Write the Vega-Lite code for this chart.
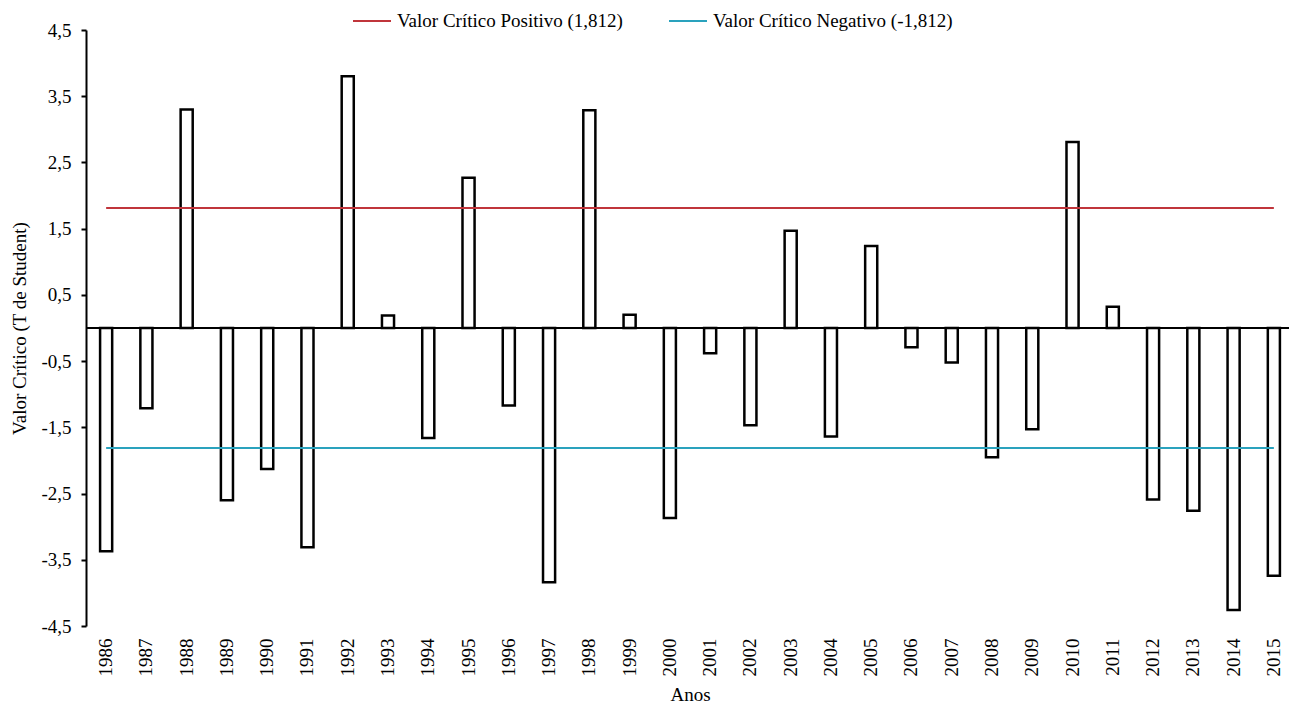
{
  "$schema": "https://vega.github.io/schema/vega-lite/v6.json",
  "autosize": {"type": "none"},
  "width": 1203,
  "height": 596,
  "padding": {"left": 86, "top": 30, "right": 0, "bottom": 80},
  "background": "white",
  "config": {
    "view": {"stroke": null},
    "font": "Liberation Serif"
  },
  "datasets": {
    "anual": [
      {"ano": "1986", "t": -3.37},
      {"ano": "1987", "t": -1.21},
      {"ano": "1988", "t": 3.30},
      {"ano": "1989", "t": -2.60},
      {"ano": "1990", "t": -2.13},
      {"ano": "1991", "t": -3.31},
      {"ano": "1992", "t": 3.80},
      {"ano": "1993", "t": 0.19},
      {"ano": "1994", "t": -1.66},
      {"ano": "1995", "t": 2.27},
      {"ano": "1996", "t": -1.17},
      {"ano": "1997", "t": -3.84},
      {"ano": "1998", "t": 3.29},
      {"ano": "1999", "t": 0.20},
      {"ano": "2000", "t": -2.87},
      {"ano": "2001", "t": -0.38},
      {"ano": "2002", "t": -1.47},
      {"ano": "2003", "t": 1.47},
      {"ano": "2004", "t": -1.64},
      {"ano": "2005", "t": 1.24},
      {"ano": "2006", "t": -0.29},
      {"ano": "2007", "t": -0.52},
      {"ano": "2008", "t": -1.95},
      {"ano": "2009", "t": -1.53},
      {"ano": "2010", "t": 2.81},
      {"ano": "2011", "t": 0.32},
      {"ano": "2012", "t": -2.59},
      {"ano": "2013", "t": -2.76},
      {"ano": "2014", "t": -4.26},
      {"ano": "2015", "t": -3.74}
    ],
    "criticos": [
      {"ano": "1986", "t": 1.812, "serie": "Valor Crítico Positivo (1,812)"},
      {"ano": "2015", "t": 1.812, "serie": "Valor Crítico Positivo (1,812)"},
      {"ano": "1986", "t": -1.812, "serie": "Valor Crítico Negativo (-1,812)"},
      {"ano": "2015", "t": -1.812, "serie": "Valor Crítico Negativo (-1,812)"}
    ]
  },
  "encoding": {
    "x": {
      "field": "ano",
      "type": "ordinal",
      "sort": "ascending",
      "scale": {"range": [0, 1208], "paddingInner": 0.7, "paddingOuter": 0.35},
      "axis": {
        "title": "Anos",
        "labelAngle": -90,
        "labelFont": "Liberation Serif",
        "labelFontSize": 19,
        "labelColor": "#000000",
        "labelPadding": 12,
        "ticks": false,
        "domain": false,
        "titleFont": "Liberation Serif",
        "titleFontSize": 19,
        "titleFontWeight": "normal",
        "titleColor": "#000000",
        "titlePadding": 9
      }
    },
    "y": {
      "field": "t",
      "type": "quantitative",
      "scale": {"domain": [-4.5, 4.5], "nice": false, "zero": false},
      "axis": {
        "title": "Valor Crítico (T de Student)",
        "values": [-4.5, -3.5, -2.5, -1.5, -0.5, 0.5, 1.5, 2.5, 3.5, 4.5],
        "labelExpr": "replace(toString(datum.value), '.', ',')",
        "grid": false,
        "domainColor": "#000000",
        "domainWidth": 2,
        "tickColor": "#000000",
        "tickWidth": 2,
        "tickSize": 5,
        "labelFont": "Liberation Serif",
        "labelFontSize": 19,
        "labelColor": "#000000",
        "labelPadding": 10,
        "titleFont": "Liberation Serif",
        "titleFontSize": 19,
        "titleFontWeight": "normal",
        "titleColor": "#000000",
        "titlePadding": 11
      }
    }
  },
  "layer": [
    {
      "data": {"name": "anual"},
      "mark": {"type": "bar", "fill": "white", "stroke": "#000000", "strokeWidth": 2.5}
    },
    {
      "data": {"values": [{"zero": 0}]},
      "mark": {"type": "rule", "color": "#000000", "strokeWidth": 1.8},
      "encoding": {"x": null, "y": {"field": "zero", "type": "quantitative"}}
    },
    {
      "data": {"name": "criticos"},
      "mark": {"type": "line", "strokeWidth": 2},
      "encoding": {
        "color": {
          "field": "serie",
          "type": "nominal",
          "sort": ["Valor Crítico Positivo (1,812)", "Valor Crítico Negativo (-1,812)"],
          "scale": {
            "domain": ["Valor Crítico Positivo (1,812)", "Valor Crítico Negativo (-1,812)"],
            "range": ["#c0353b", "#2aa2bd"]
          },
          "legend": {
            "title": null,
            "orient": "none",
            "direction": "horizontal",
            "legendX": 266,
            "legendY": -29,
            "padding": 0,
            "symbolType": "stroke",
            "symbolSize": 1444,
            "symbolStrokeWidth": 2,
            "labelFont": "Liberation Serif",
            "labelFontSize": 19,
            "labelColor": "#000000",
            "labelOffset": 5,
            "labelLimit": 0,
            "columnPadding": 42
          }
        }
      }
    }
  ]
}
